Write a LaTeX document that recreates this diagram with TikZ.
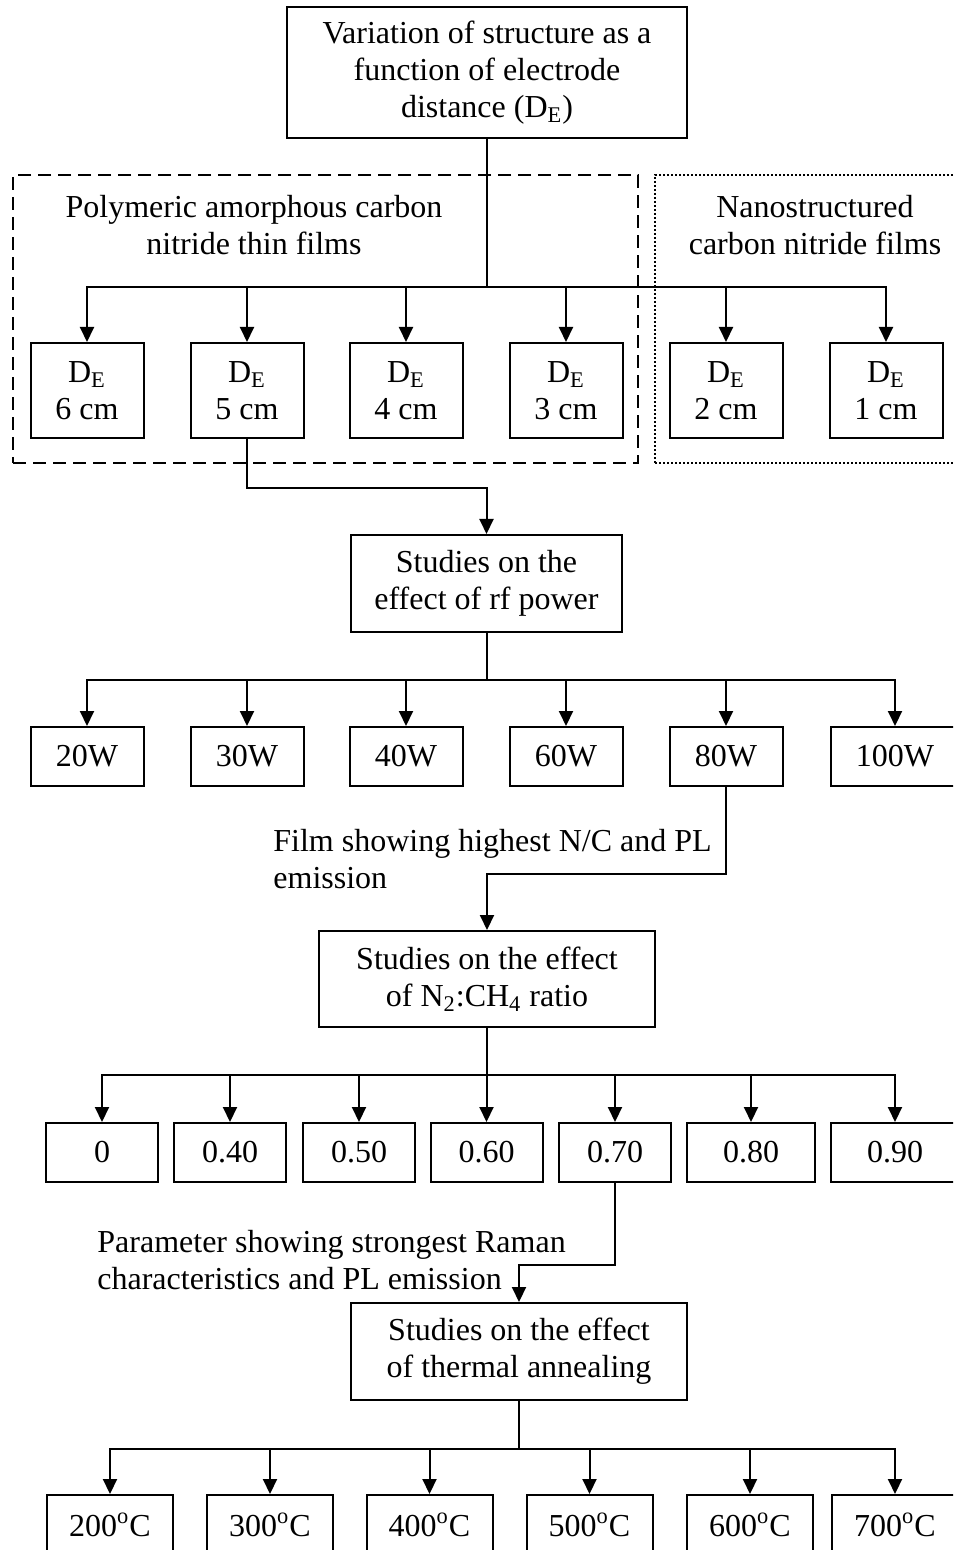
\documentclass[tikz,border=0pt]{standalone}
\usepackage{fontspec}
\setmainfont{Liberation Serif}
\usetikzlibrary{arrows.meta}

\tikzset{
  box/.style={draw, line width=1pt, align=center, inner sep=2pt},
  arr/.style={line width=1pt, -{Triangle[length=7.5pt,width=7pt]}},
}

\begin{document}
\begin{tikzpicture}[x=0.5pt, y=-0.5pt, every node/.style={font=\fontsize{16}{18.5}\selectfont}]
	\clip (0,0) rectangle (953,1550);

	% Рамки групп
	\node[draw, line width=1.2pt, dash pattern=on 6.5pt off 3.5pt, minimum width=312.5pt, minimum height=144pt] (poly) at (325.5,319) {};
	\node[draw, line width=1.2pt, dash pattern=on 1pt off 1pt, minimum width=152.5pt, minimum height=144pt] (nano) at (807.5,319) {};
	\node[align=center] (lblpoly) at (254,225) {Polymeric amorphous carbon\\nitride thin films};
	\node[align=center] (lblnano) at (815,225) {Nanostructured\\carbon nitride films};

	% Расстояние между электродами
	\node[box, minimum width=200pt, minimum height=65.5pt] (top) at (487,72.5) {Variation of structure as a\\function of electrode\\distance (D\textsubscript{E})};
	\foreach \d/\x in {6/87,5/247,4/406,3/566,2/726,1/886}{
		\node[box, minimum width=56.5pt, minimum height=47.5pt] (d\d) at (\x,390.5) {D\textsubscript{E}\\\d~cm};
		\draw[arr] (top.south) -- ++(0,148) -| (d\d.north);
	}

	% Мощность
	\node[box, minimum width=135.5pt, minimum height=48.5pt] (rf) at (486.5,583.5) {Studies on the\\effect of rf power};
	\draw[arr] (d5.south) -- ++(0,49) -| (rf.north);
	\foreach \w/\x/\bw in {20/87/56.5pt,30/247/56.5pt,40/406/56.5pt,60/566/56.5pt,80/726/56.5pt,100/895/64pt}{
		\node[box, minimum width=\bw, minimum height=29.5pt] (w\w) at (\x,756.5) {\w W};
		\draw[arr] (rf.south) -- ++(0,47) -| (w\w.north);
	}

	% Отношение N2:CH4
	\node[anchor=west, align=left, inner sep=0pt] (lblfilm) at (273,859.5) {Film showing highest N/C and PL\\emission};
	\node[box, minimum width=168pt, minimum height=48pt] (ratio) at (487,979) {Studies on the effect\\of N\textsubscript{2}:CH\textsubscript{4} ratio};
	\draw[arr] (w80.south) -- ++(0,87) -| (ratio.north);
	\foreach \t/\n/\x/\bw in {0/r0/102/56pt,0.40/r40/230/56pt,0.50/r50/359/56pt,0.60/r60/486.5/56pt,0.70/r70/615/56pt,0.80/r80/751/64pt,0.90/r90/895/64pt}{
		\node[box, minimum width=\bw, minimum height=29.5pt] (\n) at (\x,1152.5) {\t};
		\draw[arr] (ratio.south) -- ++(0,47) -| (\n.north);
	}

	% Отжиг
	\node[anchor=west, align=left, inner sep=0pt] (lblparam) at (97,1260) {Parameter showing strongest Raman\\characteristics and PL emission};
	\node[box, minimum width=168pt, minimum height=48.5pt] (anneal) at (519,1351.5) {Studies on the effect\\of thermal annealing};
	\draw[arr] (r70.south) -- ++(0,82) -| (anneal.north);
	\foreach \t/\x in {200/110,300/270,400/429.5,500/589.5,600/750,700/895}{
		\node[box, minimum width=63pt, minimum height=30pt] (t\t) at (\x,1525) {\t\textsuperscript{o}C};
		\draw[arr] (anneal.south) -- ++(0,48) -| (t\t.north);
	}
\end{tikzpicture}
\end{document}
